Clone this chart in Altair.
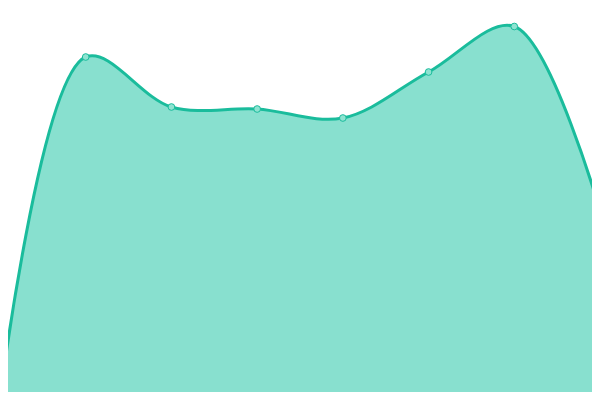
import altair as alt
import pandas as pd

xs = [0, 1, 2, 3, 4, 5, 6, 7]
values = [1, 343, 293, 291, 282, 328, 373.5, 189]

df = pd.DataFrame({"x": xs, "v": values})

# page is 600x400 with an 8px margin; plot covers pixels 8..592 / 8..392
step = 600 / 7
xsc = alt.Scale(domain=[8 / step, 592 / step], nice=False, zero=False)
ysc = alt.Scale(domain=[8, 392], nice=False, zero=False)

base = alt.Chart(df).encode(
    x=alt.X("x:Q", scale=xsc, axis=None),
    y=alt.Y("v:Q", scale=ysc, axis=None),
)

area = base.mark_area(interpolate="catmull-rom", color="#88e0cf", opacity=1, clip=True)
line = base.mark_line(interpolate="catmull-rom", color="#1abc9c", strokeWidth=3, clip=True)
pts = base.mark_point(filled=True, size=45, fill="#8ee3d1", stroke="#1abc9c",
                      strokeWidth=1, opacity=1, clip=True)

chart = (area + line + pts).properties(
    width=584, height=384,
    padding=0,
    autosize=alt.AutoSizeParams(type="none"),
).configure_view(stroke=None)

chart.save("out.html", embed_options={"renderer": "svg", "actions": False})
